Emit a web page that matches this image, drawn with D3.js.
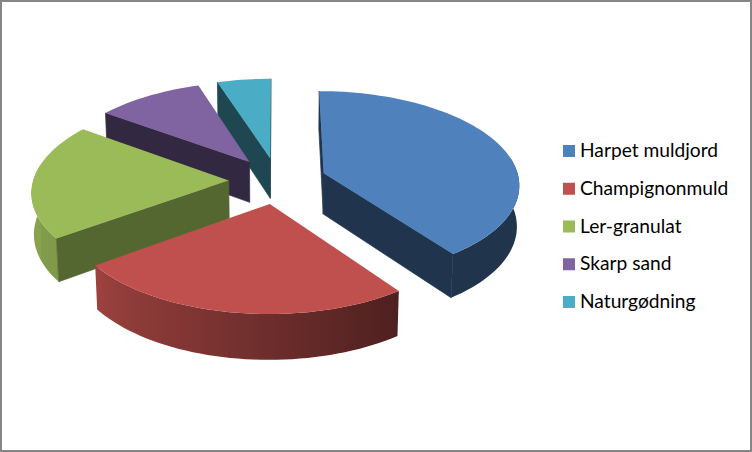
<!DOCTYPE html>
<html>
<head>
<meta charset="utf-8">
<script src="https://cdn.jsdelivr.net/npm/d3@7"></script>
<style>
body { margin: 0; background: #fff; }
svg { display: block; }
text { font-family: Lato, "Open Sans", sans-serif; font-size: 19.2px; fill: #000; }
</style>
</head>
<body>
<div class="canvas"></div>
<script>
// data
var categories = ['Harpet muldjord', 'Champignonmuld', 'Ler-granulat', 'Skarp sand', 'Naturgødning']
var values = [40, 25, 20, 10, 5]
var colors = ['#4f81bd', '#c0504d', '#9bbb59', '#8064a2', '#4bacc6']
// how dark the flat cut side of each slice is
var cutShade = [0.41, 0.41, 0.55, 0.4, 0.41]

var width = 752, height = 452

var svg = d3.select('.canvas').append('svg').attr('width', width).attr('height', height)
var defs = svg.append('defs')

// outer frame
svg.append('rect')
    .attr('x', 1).attr('y', 1)
    .attr('width', width - 2).attr('height', height - 2)
    .attr('fill', '#fff')
    .attr('stroke', '#868686')
    .attr('stroke-width', 2)

// perspective projection of the tilted pie
var explode = 0.25
var persp = 0.109
var depthPersp = 0.01
var depth = 41.4
var xScale = d3.scaleLinear().domain([-1, 1]).range([277.6 - 195.5, 277.6 + 195.5])
var yScale = d3.scaleLinear().domain([-1, 1]).range([180.4 + 92.6, 180.4 - 92.6])

function project(a, r, mid, z) {
    var X = r * Math.sin(a) + explode * Math.sin(mid)
    var Y = r * Math.cos(a) + explode * Math.cos(mid)
    var w = 1 + persp * Y + depthPersp * z
    var px = xScale(0) + (xScale(X) - xScale(0)) / w
    var py = yScale(0) + (yScale(Y) - yScale(0) + depth * z) / w
    return [px, py]
}

var line = d3.line()
var deg = Math.PI / 180

// rim gets lighter going round from right to left
var rimShade = d3.scaleLinear().domain([144, 234, 270]).range([0.4, 0.82, 0.87]).clamp(true)

function shade(color, f) {
    var c = d3.rgb(color)
    return d3.rgb(c.r * f, c.g * f, c.b * f).formatHex()
}

function angleSteps(from, to) {
    return d3.range(from, to, 2 * deg).concat([to])
}

// a cut side shows only if moving its top edge down leaves the top face
function cutVisible(a, d) {
    var p0 = project(a, 0, d.mid, 0)
    var p1 = project(a, 1, d.mid, 0)
    var q = project(d.mid, 1, d.mid, 0)
    var dx = p1[0] - p0[0], dy = p1[1] - p0[1]
    var inner = dx * (q[1] - p0[1]) - dy * (q[0] - p0[0])
    return dx * inner <= 0
}

var slices = d3.pie().sort(null)(values).map(function (d, i) {
    d.mid = (d.startAngle + d.endAngle) / 2
    d.i = i
    return d
})

// back to front
slices.sort(function (a, b) { return Math.cos(b.mid) - Math.cos(a.mid) })

slices.forEach(function (d) {
    var g = svg.append('g')
    var color = colors[d.i]
    var dark = shade(color, cutShade[d.i])

    // rim, only the part turned towards the viewer
    var from = Math.max(d.startAngle, 80 * deg)
    var to = Math.min(d.endAngle, 280 * deg)
    if (from < to) {
        var rim = angleSteps(from, to)
        var x1 = project(from, 1, d.mid, 0)[0]
        var x2 = project(to, 1, d.mid, 0)[0]
        var grad = defs.append('linearGradient')
            .attr('id', 'rim' + d.i)
            .attr('gradientUnits', 'userSpaceOnUse')
            .attr('x1', x1).attr('x2', x2)
            .attr('y1', 0).attr('y2', 0)
        rim.forEach(function (a) {
            var off = (project(a, 1, d.mid, 0)[0] - x1) / (x2 - x1)
            grad.append('stop')
                .attr('offset', Math.min(Math.max(off, 0), 1))
                .attr('stop-color', shade(color, rimShade(a / deg)))
        })
        var upper = rim.map(function (a) { return project(a, 1, d.mid, 0) })
        var lower = rim.slice().reverse().map(function (a) { return project(a, 1, d.mid, 1) })
        g.append('path')
            .attr('d', line(upper.concat(lower)) + 'Z')
            .attr('fill', 'url(#rim' + d.i + ')')
    }

    // the cut sides that can be seen
    ;[d.startAngle, d.endAngle].forEach(function (a) {
        if (!cutVisible(a, d)) return
        g.append('path')
            .attr('d', line([
                project(a, 0, d.mid, 0), project(a, 1, d.mid, 0),
                project(a, 1, d.mid, 1), project(a, 0, d.mid, 1)
            ]) + 'Z')
            .attr('fill', dark)
            .attr('stroke', dark)
            .attr('stroke-width', 0.7)
            .attr('stroke-linejoin', 'round')
    })

    // top face
    var top = [project(0, 0, d.mid, 0)].concat(angleSteps(d.startAngle, d.endAngle).map(function (a) {
        return project(a, 1, d.mid, 0)
    }))
    g.append('path')
        .attr('d', line(top) + 'Z')
        .attr('fill', color)
})

// legend
var legendY = d3.scalePoint().domain(categories).range([151, 302])

var legend = svg.selectAll('.legend').data(categories).enter().append('g')
    .attr('class', 'legend')
    .attr('transform', function (d) { return 'translate(563,' + legendY(d) + ')' })

legend.append('rect')
    .attr('x', 0).attr('y', -6)
    .attr('width', 12).attr('height', 12)
    .attr('fill', function (d, i) { return colors[i] })

legend.append('text')
    .attr('x', 17)
    .attr('y', 6)
    .text(function (d) { return d })
</script>
</body>
</html>
